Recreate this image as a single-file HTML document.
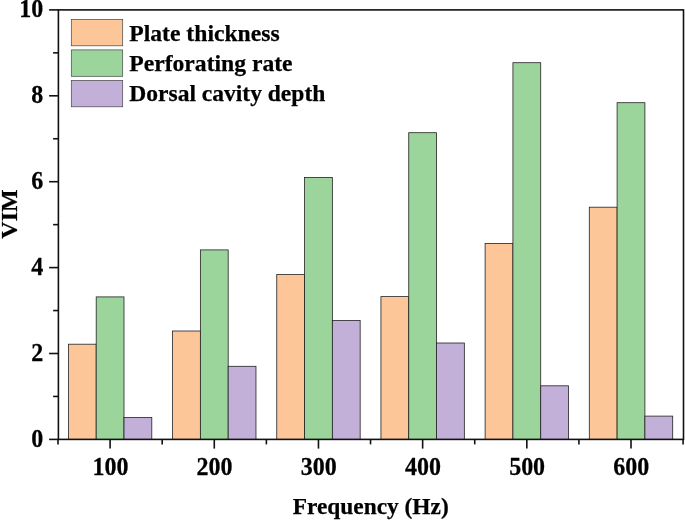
<!DOCTYPE html>
<html><head><meta charset="utf-8"><title>VIM chart</title>
<style>
html,body{margin:0;padding:0;background:#fff;}
svg{display:block;}
text{font-family:"Liberation Serif","Times New Roman",serif;font-weight:bold;font-size:24px;fill:#000;stroke:#000;stroke-width:0.25px;}
</style></head><body>
<svg width="685" height="521" viewBox="0 0 685 521">
<rect x="0" y="0" width="685" height="521" fill="#fff"/>
<rect x="68.40" y="344.20" width="27.80" height="95.20" fill="#FCC698" stroke="#222" stroke-width="0.8"/>
<rect x="96.20" y="296.90" width="27.80" height="142.50" fill="#9BD59C" stroke="#222" stroke-width="0.8"/>
<rect x="124.00" y="417.50" width="27.80" height="21.90" fill="#C2B0D9" stroke="#222" stroke-width="0.8"/>
<rect x="172.58" y="331.00" width="27.80" height="108.40" fill="#FCC698" stroke="#222" stroke-width="0.8"/>
<rect x="200.38" y="249.90" width="27.80" height="189.50" fill="#9BD59C" stroke="#222" stroke-width="0.8"/>
<rect x="228.18" y="366.30" width="27.80" height="73.10" fill="#C2B0D9" stroke="#222" stroke-width="0.8"/>
<rect x="276.76" y="274.40" width="27.80" height="165.00" fill="#FCC698" stroke="#222" stroke-width="0.8"/>
<rect x="304.56" y="177.40" width="27.80" height="262.00" fill="#9BD59C" stroke="#222" stroke-width="0.8"/>
<rect x="332.36" y="320.50" width="27.80" height="118.90" fill="#C2B0D9" stroke="#222" stroke-width="0.8"/>
<rect x="380.94" y="296.60" width="27.80" height="142.80" fill="#FCC698" stroke="#222" stroke-width="0.8"/>
<rect x="408.74" y="132.70" width="27.80" height="306.70" fill="#9BD59C" stroke="#222" stroke-width="0.8"/>
<rect x="436.54" y="343.00" width="27.80" height="96.40" fill="#C2B0D9" stroke="#222" stroke-width="0.8"/>
<rect x="485.12" y="243.40" width="27.80" height="196.00" fill="#FCC698" stroke="#222" stroke-width="0.8"/>
<rect x="512.92" y="62.70" width="27.80" height="376.70" fill="#9BD59C" stroke="#222" stroke-width="0.8"/>
<rect x="540.72" y="385.80" width="27.80" height="53.60" fill="#C2B0D9" stroke="#222" stroke-width="0.8"/>
<rect x="589.30" y="207.20" width="27.80" height="232.20" fill="#FCC698" stroke="#222" stroke-width="0.8"/>
<rect x="617.10" y="102.70" width="27.80" height="336.70" fill="#9BD59C" stroke="#222" stroke-width="0.8"/>
<rect x="644.90" y="416.10" width="27.80" height="23.30" fill="#C2B0D9" stroke="#222" stroke-width="0.8"/>
<rect x="58.4" y="9.9" width="625.1" height="429.5" fill="none" stroke="#111" stroke-width="1.6"/>
<line x1="49.10" y1="439.40" x2="58.4" y2="439.40" stroke="#111" stroke-width="1.6"/>
<text transform="translate(43.3,446.90) scale(1,1.02)" text-anchor="end">0</text>
<line x1="53.10" y1="396.45" x2="58.4" y2="396.45" stroke="#111" stroke-width="1.6"/>
<line x1="49.10" y1="353.50" x2="58.4" y2="353.50" stroke="#111" stroke-width="1.6"/>
<text transform="translate(43.3,361.00) scale(1,1.02)" text-anchor="end">2</text>
<line x1="53.10" y1="310.55" x2="58.4" y2="310.55" stroke="#111" stroke-width="1.6"/>
<line x1="49.10" y1="267.60" x2="58.4" y2="267.60" stroke="#111" stroke-width="1.6"/>
<text transform="translate(43.3,275.10) scale(1,1.02)" text-anchor="end">4</text>
<line x1="53.10" y1="224.65" x2="58.4" y2="224.65" stroke="#111" stroke-width="1.6"/>
<line x1="49.10" y1="181.70" x2="58.4" y2="181.70" stroke="#111" stroke-width="1.6"/>
<text transform="translate(43.3,189.20) scale(1,1.02)" text-anchor="end">6</text>
<line x1="53.10" y1="138.75" x2="58.4" y2="138.75" stroke="#111" stroke-width="1.6"/>
<line x1="49.10" y1="95.80" x2="58.4" y2="95.80" stroke="#111" stroke-width="1.6"/>
<text transform="translate(43.3,103.30) scale(1,1.02)" text-anchor="end">8</text>
<line x1="53.10" y1="52.85" x2="58.4" y2="52.85" stroke="#111" stroke-width="1.6"/>
<line x1="49.10" y1="9.90" x2="58.4" y2="9.90" stroke="#111" stroke-width="1.6"/>
<text transform="translate(43.3,17.40) scale(1,1.02)" text-anchor="end">10</text>
<line x1="110.10" y1="439.4" x2="110.10" y2="448.60" stroke="#111" stroke-width="1.6"/>
<text transform="translate(110.40,474.75) scale(1,1.02)" text-anchor="middle">100</text>
<line x1="214.28" y1="439.4" x2="214.28" y2="448.60" stroke="#111" stroke-width="1.6"/>
<text transform="translate(214.58,474.75) scale(1,1.02)" text-anchor="middle">200</text>
<line x1="318.46" y1="439.4" x2="318.46" y2="448.60" stroke="#111" stroke-width="1.6"/>
<text transform="translate(318.76,474.75) scale(1,1.02)" text-anchor="middle">300</text>
<line x1="422.64" y1="439.4" x2="422.64" y2="448.60" stroke="#111" stroke-width="1.6"/>
<text transform="translate(422.94,474.75) scale(1,1.02)" text-anchor="middle">400</text>
<line x1="526.82" y1="439.4" x2="526.82" y2="448.60" stroke="#111" stroke-width="1.6"/>
<text transform="translate(527.12,474.75) scale(1,1.02)" text-anchor="middle">500</text>
<line x1="631.00" y1="439.4" x2="631.00" y2="448.60" stroke="#111" stroke-width="1.6"/>
<text transform="translate(631.30,474.75) scale(1,1.02)" text-anchor="middle">600</text>
<line x1="58.01" y1="439.4" x2="58.01" y2="444.40" stroke="#111" stroke-width="1.6"/>
<line x1="162.19" y1="439.4" x2="162.19" y2="444.40" stroke="#111" stroke-width="1.6"/>
<line x1="266.37" y1="439.4" x2="266.37" y2="444.40" stroke="#111" stroke-width="1.6"/>
<line x1="370.55" y1="439.4" x2="370.55" y2="444.40" stroke="#111" stroke-width="1.6"/>
<line x1="474.73" y1="439.4" x2="474.73" y2="444.40" stroke="#111" stroke-width="1.6"/>
<line x1="578.91" y1="439.4" x2="578.91" y2="444.40" stroke="#111" stroke-width="1.6"/>
<line x1="683.09" y1="439.4" x2="683.09" y2="444.40" stroke="#111" stroke-width="1.6"/>
<text x="370.7" y="513.9" text-anchor="middle" textLength="156" lengthAdjust="spacingAndGlyphs">Frequency (Hz)</text>
<text transform="translate(16.8,214) rotate(-90)" text-anchor="middle">VIM</text>
<rect x="71.3" y="19.40" width="51.4" height="26.4" fill="#FCC698" stroke="#444" stroke-width="0.7"/>
<text x="129.3" y="41.2" textLength="150.3" lengthAdjust="spacingAndGlyphs">Plate thickness</text>
<rect x="71.3" y="49.90" width="51.4" height="26.4" fill="#9BD59C" stroke="#444" stroke-width="0.7"/>
<text x="129.3" y="71.0" textLength="163.3" lengthAdjust="spacingAndGlyphs">Perforating rate</text>
<rect x="71.3" y="80.40" width="51.4" height="26.4" fill="#C2B0D9" stroke="#444" stroke-width="0.7"/>
<text x="129.3" y="100.9" textLength="196" lengthAdjust="spacingAndGlyphs">Dorsal cavity depth</text>
</svg>
</body></html>
